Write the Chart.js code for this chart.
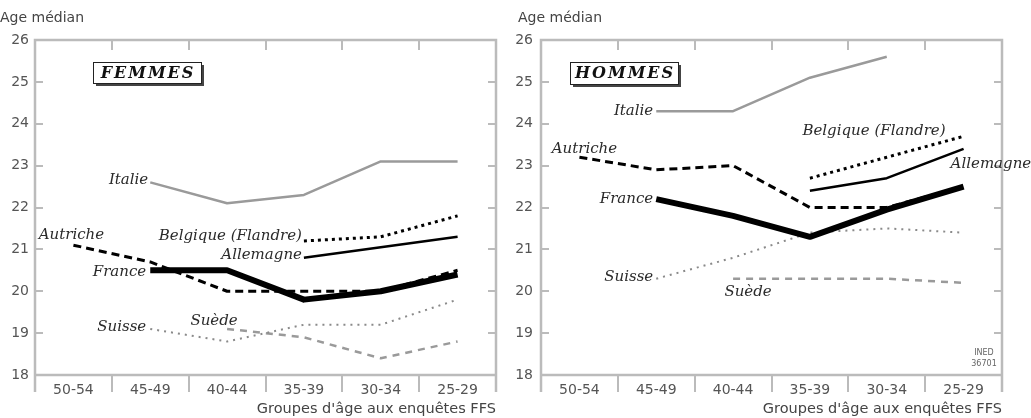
<!DOCTYPE html>
<html>
<head>
<meta charset="utf-8">
<script src="https://cdn.jsdelivr.net/npm/chart.js@4.4.1/dist/chart.umd.min.js"></script>
<style>
body { margin: 0; background: #fff; width: 1031px; height: 418px; overflow: hidden; position: relative; }
canvas { position: absolute; top: 0; }
</style>
</head>
<body>
<canvas id="femmes" width="515" height="418" style="left:0"></canvas>
<canvas id="hommes" width="521" height="418" style="left:510px"></canvas>
<script>
// age groups at the FFS surveys
const AGE_GROUPS = ['50-54', '45-49', '40-44', '35-39', '30-34', '25-29'];
const Y_MIN = 18;
const Y_MAX = 26;

// women - median age
const F_FRANCE    = [null, 20.5, 20.5, 19.8, 20.0, 20.4];
const F_ALLEMAGNE = [null, null, null, 20.8, 21.05, 21.3];
const F_BELGIQUE  = [null, null, null, 21.2, 21.3, 21.8];
const F_AUTRICHE  = [21.1, 20.7, 20.0, 20.0, 20.0, 20.5];
const F_ITALIE    = [null, 22.6, 22.1, 22.3, 23.1, 23.1];
const F_SUISSE    = [null, 19.1, 18.8, 19.2, 19.2, 19.8];
const F_SUEDE     = [null, null, 19.1, 18.9, 18.4, 18.8];

// men - median age
const H_FRANCE    = [null, 22.2, 21.8, 21.3, 21.95, 22.5];
const H_ALLEMAGNE = [null, null, null, 22.4, 22.7, 23.4];
const H_BELGIQUE  = [null, null, null, 22.7, 23.2, 23.7];
const H_AUTRICHE  = [23.2, 22.9, 23.0, 22.0, 22.0, 22.5];
const H_ITALIE    = [null, 24.3, 24.3, 25.1, 25.6, null];
const H_SUISSE    = [null, 20.3, 20.8, 21.4, 21.5, 21.4];
const H_SUEDE     = [null, null, 20.3, 20.3, 20.3, 20.2];

const STYLES = {
    'France':             { color: '#000', width: 6,   dash: [] },
    'Allemagne':          { color: '#000', width: 2.5, dash: [] },
    'Belgique (Flandre)': { color: '#000', width: 3,   dash: [3, 4] },
    'Autriche':           { color: '#000', width: 3,   dash: [8, 5] },
    'Italie':             { color: '#9a9a9a', width: 2.5, dash: [] },
    'Suisse':             { color: '#8a8a8a', width: 2,   dash: [2, 5] },
    'Suède':              { color: '#9a9a9a', width: 2.5, dash: [7, 6] }
};

const AXIS_GREY = '#bbbbbb';
const SANS = "'DejaVu Sans', sans-serif";
const SERIF = "'DejaVu Serif', serif";

function makeDataset(name, data) {
    const s = STYLES[name];
    return {
        label: name,
        data: data,
        borderColor: s.color,
        borderWidth: s.width,
        borderDash: s.dash,
        borderCapStyle: 'butt',
        borderJoinStyle: 'round',
        pointRadius: 0,
        fill: false,
        tension: 0,
        spanGaps: false
    };
}

const decor = {
    id: 'decor',
    afterDraw(chart, args, o) {
        const { ctx, chartArea: { left, right, top, bottom }, scales: { x, y } } = chart;
        ctx.save();

        // frame
        ctx.strokeStyle = AXIS_GREY;
        ctx.lineWidth = 2.5;
        ctx.beginPath();
        ctx.moveTo(left, bottom + 17); ctx.lineTo(left, top); ctx.lineTo(right, top); ctx.lineTo(right, bottom + 17);
        ctx.moveTo(left, bottom); ctx.lineTo(right, bottom);
        ctx.stroke();
        ctx.lineWidth = 2;
        ctx.beginPath();
        for (let i = 1; i < AGE_GROUPS.length; i++) {
            const bx = Math.round((x.getPixelForValue(i - 1) + x.getPixelForValue(i)) / 2);
            ctx.moveTo(bx, top); ctx.lineTo(bx, top + 10);
            ctx.moveTo(bx, bottom); ctx.lineTo(bx, bottom + 17);
        }
        for (let v = Y_MIN + 1; v < Y_MAX; v++) {
            const py = Math.round(y.getPixelForValue(v));
            ctx.moveTo(left, py); ctx.lineTo(left + 8, py);
            ctx.moveTo(right - 8, py); ctx.lineTo(right, py);
        }
        ctx.stroke();

        // country names
        ctx.fillStyle = '#2a2a2a';
        ctx.font = 'italic 15px ' + SERIF;
        ctx.textBaseline = 'middle';
        o.spots.forEach(sp => {
            const idx = chart.data.datasets.findIndex(d => d.label === sp.name);
            const pt = chart.getDatasetMeta(idx).data[sp.at];
            ctx.textAlign = sp.align;
            ctx.fillText(sp.name, pt.x + sp.dx, pt.y + sp.dy);
        });

        // title box
        const b = o.box;
        ctx.fillStyle = '#444';
        ctx.fillRect(b.x + 3, b.y + 3, b.w, b.h);
        ctx.fillStyle = '#fff';
        ctx.fillRect(b.x, b.y, b.w, b.h);
        ctx.strokeStyle = '#222';
        ctx.lineWidth = 1;
        ctx.strokeRect(b.x + 0.5, b.y + 0.5, b.w, b.h);
        ctx.fillStyle = '#111';
        ctx.font = 'italic bold 16px ' + SERIF;
        ctx.letterSpacing = '2px';
        ctx.textAlign = 'center';
        ctx.fillText(o.title, b.x + b.w / 2 + 1, b.y + b.h / 2 + 1);
        ctx.letterSpacing = '0px';

        // y axis caption
        ctx.fillStyle = '#444';
        ctx.font = '14px ' + SANS;
        ctx.textAlign = 'left';
        ctx.fillText('Age médian', o.captionX, 18);

        if (o.ined) {
            ctx.font = '8px ' + SANS;
            ctx.fillStyle = '#666';
            ctx.textAlign = 'center';
            ctx.fillText('INED', right - 18, bottom - 22);
            ctx.fillText('36701', right - 18, bottom - 11);
        }
        ctx.restore();
    }
};

function buildPanel(canvasId, series, opts) {
    const datasets = series.map(s => makeDataset(s[0], s[1]));
    return new Chart(document.getElementById(canvasId), {
        type: 'line',
        data: { labels: AGE_GROUPS, datasets: datasets },
        options: {
            responsive: false,
            animation: false,
            layout: { padding: { top: 40, right: opts.padRight, left: 0, bottom: 0 } },
            plugins: {
                legend: { display: false },
                tooltip: { enabled: false },
                decor: opts
            },
            scales: {
                x: {
                    offset: true,
                    grid: { display: false, drawTicks: false },
                    border: { display: false },
                    ticks: { color: '#555', font: { family: SANS, size: 14 }, padding: 7, maxRotation: 0 },
                    title: {
                        display: true, text: "Groupes d'âge aux enquêtes FFS", align: 'end',
                        color: '#444', font: { family: SANS, size: 14.5 }, padding: { top: 0, bottom: 0 }
                    },
                    afterFit: sc => { sc.height = 43; }
                },
                y: {
                    min: Y_MIN,
                    max: Y_MAX,
                    grid: { display: false, drawTicks: false },
                    border: { display: false },
                    ticks: { stepSize: 1, color: '#555', font: { family: SANS, size: 14 }, padding: opts.tickPad },
                    afterFit: sc => { sc.width = opts.yWidth; }
                }
            }
        },
        plugins: [decor]
    });
}

buildPanel('femmes', [
    ['France', F_FRANCE], ['Allemagne', F_ALLEMAGNE], ['Belgique (Flandre)', F_BELGIQUE],
    ['Autriche', F_AUTRICHE], ['Italie', F_ITALIE], ['Suisse', F_SUISSE], ['Suède', F_SUEDE]
], {
    title: 'FEMMES', box: { x: 93, y: 62, w: 108, h: 21 }, captionX: 0, ined: false,
    yWidth: 35, padRight: 19, tickPad: 6,
    spots: [
        { name: 'Italie', at: 1, dx: -2, dy: -2, align: 'right' },
        { name: 'Autriche', at: 0, dx: -2, dy: -10, align: 'center' },
        { name: 'France', at: 1, dx: -4, dy: 2, align: 'right' },
        { name: 'Belgique (Flandre)', at: 3, dx: -2, dy: -5, align: 'right' },
        { name: 'Allemagne', at: 3, dx: -2, dy: -3, align: 'right' },
        { name: 'Suisse', at: 1, dx: -4, dy: -2, align: 'right' },
        { name: 'Suède', at: 2, dx: -13, dy: -8, align: 'center' }
    ]
});

buildPanel('hommes', [
    ['France', H_FRANCE], ['Allemagne', H_ALLEMAGNE], ['Belgique (Flandre)', H_BELGIQUE],
    ['Autriche', H_AUTRICHE], ['Italie', H_ITALIE], ['Suisse', H_SUISSE], ['Suède', H_SUEDE]
], {
    title: 'HOMMES', box: { x: 60, y: 62, w: 108, h: 22 }, captionX: 8, ined: true,
    yWidth: 31, padRight: 29, tickPad: 8,
    spots: [
        { name: 'Italie', at: 1, dx: -3, dy: 0, align: 'right' },
        { name: 'Autriche', at: 0, dx: 5, dy: -8, align: 'center' },
        { name: 'France', at: 1, dx: -3, dy: 0, align: 'right' },
        { name: 'Belgique (Flandre)', at: 5, dx: -18, dy: -5, align: 'right' },
        { name: 'Allemagne', at: 5, dx: -13, dy: 15, align: 'left' },
        { name: 'Suisse', at: 1, dx: -3, dy: -2, align: 'right' },
        { name: 'Suède', at: 2, dx: 15, dy: 13, align: 'center' }
    ]
});
</script>
</body>
</html>
